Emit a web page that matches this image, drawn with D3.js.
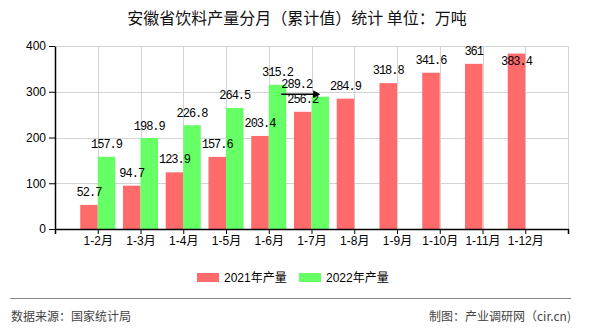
<!DOCTYPE html>
<html><head><meta charset="utf-8">
<script src="https://cdn.jsdelivr.net/npm/d3@7"></script>
<style>
html,body{margin:0;padding:0;background:#fff;}
svg{display:block;}
</style></head>
<body>
<script>
const categories = ["1-2月","1-3月","1-4月","1-5月","1-6月","1-7月","1-8月","1-9月","1-10月","1-11月","1-12月"];
const values2021 = [52.7,94.7,123.9,157.6,203.4,256.2,284.9,318.8,341.6,361,383.4];
const values2022 = [157.9,198.9,226.8,264.5,315.2,289.2];
const seriesNames = ["2021年产量","2022年产量"];
const yTicks = [0,100,200,300,400];
const titleText = "安徽省饮料产量分月（累计值）统计 单位：万吨";
const sourceText = "数据来源：国家统计局";
const creditText = "制图：产业调研网（cir.cn)";

(function(){
const W = 590, H = 330;
const colors = ["#FF6A6A","#66FF66"];
const pL = 55, pR = 568, pT = 46, pB = 229;

const svg = d3.select("body").append("svg").attr("width", W).attr("height", H);

const x = d3.scalePoint().domain(categories).range([pL, pR]).padding(1);
const y = d3.scaleLinear().domain([0, 400]).range([pB, pT]);
const bw = x.step() * 0.41;

// grid
const grid = svg.append("g").attr("stroke", "#d3d3d3").attr("stroke-width", 1);
yTicks.filter(d => d > 0).forEach(t => {
  grid.append("line").attr("x1", pL).attr("x2", pR)
    .attr("y1", Math.round(y(t)) + 0.5).attr("y2", Math.round(y(t)) + 0.5);
});
categories.forEach(c => {
  grid.append("line").attr("x1", Math.round(x(c)) + 0.5).attr("x2", Math.round(x(c)) + 0.5)
    .attr("y1", pT).attr("y2", pB);
});
grid.append("line").attr("x1", pR + 0.5).attr("x2", pR + 0.5).attr("y1", pT).attr("y2", pB);

// bars
const g1 = svg.append("g");
g1.selectAll("rect").data(values2021).enter().append("rect")
  .attr("x", (d, i) => x(categories[i]) - bw)
  .attr("y", d => y(d))
  .attr("width", bw)
  .attr("height", d => pB - y(d))
  .attr("fill", colors[0]);
const g2 = svg.append("g");
g2.selectAll("rect").data(values2022).enter().append("rect")
  .attr("x", (d, i) => x(categories[i]))
  .attr("y", d => y(d))
  .attr("width", bw)
  .attr("height", d => pB - y(d))
  .attr("fill", colors[1]);

// axes
const ax = svg.append("g").attr("transform", `translate(0,${pB})`)
  .call(d3.axisBottom(x).tickSize(5).tickSizeOuter(5));
ax.select(".domain").attr("stroke", "#000").attr("stroke-width", 1.5);
ax.selectAll(".tick line").attr("stroke", "#000");
ax.selectAll("text").attr("font-family", "Liberation Sans, Noto Sans CJK SC, sans-serif")
  .attr("font-size", 12).attr("fill", "#000").attr("dy", "0.9em").attr("y", 5);

const ay = svg.append("g").attr("transform", `translate(${pL},0)`)
  .call(d3.axisLeft(y).tickValues(yTicks).tickSize(6).tickSizeOuter(0));
ay.select(".domain").attr("stroke", "#000").attr("stroke-width", 1.5);
ay.selectAll(".tick line").attr("stroke", "#000");
ay.selectAll("text").attr("font-family", "Liberation Sans, sans-serif")
  .attr("font-size", 12).attr("fill", "#000").attr("x", -9);

// value labels
const labelFont = "Liberation Mono, DejaVu Sans Mono, monospace";
function addLabel(tx, ty, txt, anchor) {
  svg.append("text").attr("x", tx).attr("y", ty).text(txt)
    .attr("font-family", labelFont).attr("font-size", 12)
    .attr("letter-spacing", "-1px").attr("text-anchor", anchor || "middle").attr("fill", "#000");
}
values2021.forEach((v, i) => {
  const cx = x(categories[i]) - bw / 2;
  let ty = y(v) - 9;
  if (ty - 10 < pT - 2) ty = y(v) + 11.5;
  addLabel(cx, ty, String(v));
});
values2022.forEach((v, i) => {
  const cx = x(categories[i]) + bw / 2;
  const ty = y(v) - 8.5;
  if (i === values2022.length - 1) {
    const endX = cx - 8;
    addLabel(endX, ty, String(v), "end");
    const ly = y(v) - 2.5;
    svg.append("line").attr("x1", endX - 31).attr("x2", cx - 5)
      .attr("y1", ly).attr("y2", ly).attr("stroke", "#000").attr("stroke-width", 1.5);
    svg.append("path")
      .attr("d", `M${cx},${ly} L${cx - 7},${ly - 4} L${cx - 7},${ly + 4} Z`)
      .attr("fill", "#000");
  } else {
    addLabel(cx, ty, String(v));
  }
});

// title
svg.append("text").attr("x", 297).attr("y", 24).attr("text-anchor", "middle")
  .attr("font-family", "Noto Sans CJK SC, sans-serif").attr("font-size", 16)
  .attr("fill", "#111").text(titleText);

// legend
const legend = svg.append("g");
const legX = [197, 299];
seriesNames.forEach((n, i) => {
  legend.append("rect").attr("x", legX[i]).attr("y", 273).attr("width", 22).attr("height", 9)
    .attr("fill", colors[i]);
  legend.append("text").attr("x", legX[i] + 27).attr("y", 282)
    .attr("font-family", "Liberation Sans, Noto Sans CJK SC, sans-serif").attr("font-size", 12)
    .attr("fill", "#000").text(n);
});

// footer
svg.append("line").attr("x1", 10).attr("x2", 571).attr("y1", 298.5).attr("y2", 298.5)
  .attr("stroke", "#888").attr("stroke-width", 1);
svg.append("text").attr("x", 11).attr("y", 321)
  .attr("font-family", "Noto Sans CJK SC, sans-serif").attr("font-size", 12)
  .attr("fill", "#444").text(sourceText);
svg.append("text").attr("x", 571).attr("y", 321).attr("text-anchor", "end")
  .attr("font-family", "Noto Sans CJK SC, sans-serif").attr("font-size", 12)
  .attr("fill", "#444").text(creditText);
})();
</script>
</body></html>
